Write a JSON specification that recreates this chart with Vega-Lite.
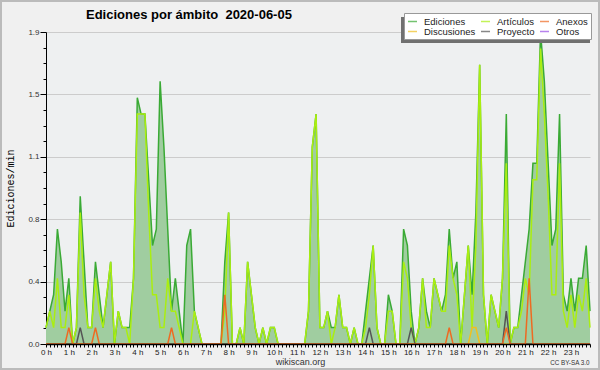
{
"$schema": "https://vega.github.io/schema/vega-lite/v6.json",
"width": 544, "height": 312,
"autosize": {"type": "none"},
"padding": {"left": 46, "top": 32, "right": 10, "bottom": 26},
"background": "#f0f0f0",
"config": {"view": {"fill": "#eef0f1", "stroke": null}, "font": "Liberation Sans"},
"title": {"text": "Ediciones por ámbito\u00a0\u00a02020-06-05", "font": "Liberation Sans", "fontSize": 13, "fontWeight": "bold", "color": "#000000", "anchor": "start", "frame": "group", "dx": 40, "baseline": "alphabetic", "offset": 0, "dy": 31},
"data": {"values": [
{"m":0,"ed":0.1,"art":0.1,"anx":0,"disc":0,"proy":0},
{"m":10,"ed":0.2,"art":0.2,"anx":0,"disc":0,"proy":0},
{"m":20,"ed":0.3,"art":0.1,"anx":0,"disc":0,"proy":0},
{"m":30,"ed":0.7,"art":0.4,"anx":0,"disc":0,"proy":0},
{"m":40,"ed":0.5,"art":0.1,"anx":0,"disc":0,"proy":0},
{"m":50,"ed":0.2,"art":0.1,"anx":0,"disc":0,"proy":0},
{"m":60,"ed":0.4,"art":0.3,"anx":0.1,"disc":0,"proy":0},
{"m":70,"ed":0,"art":0,"anx":0,"disc":0,"proy":0},
{"m":80,"ed":0.1,"art":0.1,"anx":0,"disc":0,"proy":0},
{"m":90,"ed":0.9,"art":0.8,"anx":0,"disc":0,"proy":0.1},
{"m":100,"ed":0.5,"art":0.3,"anx":0,"disc":0,"proy":0},
{"m":110,"ed":0.1,"art":0.1,"anx":0,"disc":0,"proy":0},
{"m":120,"ed":0.1,"art":0.1,"anx":0,"disc":0,"proy":0},
{"m":130,"ed":0.5,"art":0.4,"anx":0.1,"disc":0,"proy":0},
{"m":140,"ed":0.3,"art":0.2,"anx":0,"disc":0,"proy":0},
{"m":150,"ed":0.1,"art":0.1,"anx":0,"disc":0,"proy":0},
{"m":160,"ed":0.3,"art":0.3,"anx":0,"disc":0,"proy":0},
{"m":170,"ed":0.5,"art":0.5,"anx":0,"disc":0,"proy":0},
{"m":180,"ed":0,"art":0,"anx":0,"disc":0,"proy":0},
{"m":190,"ed":0.2,"art":0.2,"anx":0,"disc":0,"proy":0},
{"m":200,"ed":0.1,"art":0.1,"anx":0,"disc":0,"proy":0},
{"m":210,"ed":0.1,"art":0.1,"anx":0,"disc":0,"proy":0},
{"m":220,"ed":0.1,"art":0,"anx":0,"disc":0,"proy":0},
{"m":230,"ed":0.4,"art":0.4,"anx":0,"disc":0,"proy":0},
{"m":240,"ed":1.5,"art":1.4,"anx":0,"disc":0,"proy":0},
{"m":250,"ed":1.4,"art":1.4,"anx":0,"disc":0,"proy":0},
{"m":260,"ed":1.4,"art":1.4,"anx":0,"disc":0,"proy":0},
{"m":270,"ed":1.0,"art":0.8,"anx":0,"disc":0,"proy":0},
{"m":280,"ed":0.6,"art":0.3,"anx":0,"disc":0,"proy":0},
{"m":290,"ed":0.7,"art":0.3,"anx":0,"disc":0,"proy":0},
{"m":300,"ed":1.6,"art":0.1,"anx":0,"disc":0,"proy":0},
{"m":310,"ed":1.2,"art":0.1,"anx":0,"disc":0,"proy":0},
{"m":320,"ed":0.7,"art":0.4,"anx":0,"disc":0,"proy":0},
{"m":330,"ed":0.2,"art":0.2,"anx":0.1,"disc":0,"proy":0},
{"m":340,"ed":0.4,"art":0.2,"anx":0,"disc":0,"proy":0},
{"m":350,"ed":0.2,"art":0.1,"anx":0,"disc":0,"proy":0},
{"m":360,"ed":0,"art":0,"anx":0,"disc":0,"proy":0},
{"m":370,"ed":0.6,"art":0,"anx":0,"disc":0,"proy":0},
{"m":380,"ed":0.7,"art":0,"anx":0,"disc":0,"proy":0},
{"m":390,"ed":0.2,"art":0.2,"anx":0,"disc":0,"proy":0},
{"m":400,"ed":0.1,"art":0.1,"anx":0,"disc":0,"proy":0},
{"m":410,"ed":0,"art":0,"anx":0,"disc":0,"proy":0},
{"m":420,"ed":0,"art":0,"anx":0,"disc":0,"proy":0},
{"m":430,"ed":0,"art":0,"anx":0,"disc":0,"proy":0},
{"m":440,"ed":0,"art":0,"anx":0,"disc":0,"proy":0},
{"m":450,"ed":0,"art":0,"anx":0,"disc":0,"proy":0},
{"m":460,"ed":0,"art":0,"anx":0,"disc":0,"proy":0},
{"m":470,"ed":0.5,"art":0.2,"anx":0.3,"disc":0,"proy":0},
{"m":480,"ed":0.8,"art":0.8,"anx":0,"disc":0,"proy":0},
{"m":490,"ed":0,"art":0,"anx":0,"disc":0,"proy":0},
{"m":500,"ed":0,"art":0,"anx":0,"disc":0,"proy":0},
{"m":510,"ed":0.1,"art":0.1,"anx":0,"disc":0,"proy":0},
{"m":520,"ed":0,"art":0,"anx":0,"disc":0,"proy":0},
{"m":530,"ed":0.5,"art":0.5,"anx":0,"disc":0,"proy":0},
{"m":540,"ed":0.3,"art":0.3,"anx":0,"disc":0,"proy":0},
{"m":550,"ed":0.1,"art":0.1,"anx":0,"disc":0,"proy":0},
{"m":560,"ed":0,"art":0,"anx":0,"disc":0,"proy":0},
{"m":570,"ed":0.1,"art":0.1,"anx":0,"disc":0,"proy":0},
{"m":580,"ed":0,"art":0,"anx":0,"disc":0,"proy":0},
{"m":590,"ed":0.1,"art":0.1,"anx":0,"disc":0,"proy":0},
{"m":600,"ed":0.1,"art":0.1,"anx":0,"disc":0,"proy":0},
{"m":610,"ed":0,"art":0,"anx":0,"disc":0,"proy":0},
{"m":620,"ed":0,"art":0,"anx":0,"disc":0,"proy":0},
{"m":630,"ed":0,"art":0,"anx":0,"disc":0,"proy":0},
{"m":640,"ed":0,"art":0,"anx":0,"disc":0,"proy":0},
{"m":650,"ed":0,"art":0,"anx":0,"disc":0,"proy":0},
{"m":660,"ed":0,"art":0,"anx":0,"disc":0,"proy":0},
{"m":670,"ed":0,"art":0,"anx":0,"disc":0,"proy":0},
{"m":680,"ed":0,"art":0,"anx":0,"disc":0,"proy":0},
{"m":690,"ed":0.2,"art":0.2,"anx":0,"disc":0,"proy":0},
{"m":700,"ed":1.2,"art":1.2,"anx":0,"disc":0,"proy":0},
{"m":710,"ed":1.4,"art":1.4,"anx":0,"disc":0,"proy":0},
{"m":720,"ed":0.1,"art":0.1,"anx":0,"disc":0,"proy":0},
{"m":730,"ed":0.1,"art":0.1,"anx":0,"disc":0,"proy":0},
{"m":740,"ed":0.2,"art":0.2,"anx":0,"disc":0,"proy":0},
{"m":750,"ed":0.1,"art":0,"anx":0,"disc":0,"proy":0},
{"m":760,"ed":0.1,"art":0.1,"anx":0,"disc":0,"proy":0},
{"m":770,"ed":0.3,"art":0.3,"anx":0,"disc":0,"proy":0},
{"m":780,"ed":0.1,"art":0.1,"anx":0,"disc":0,"proy":0},
{"m":790,"ed":0.1,"art":0.1,"anx":0,"disc":0,"proy":0},
{"m":800,"ed":0,"art":0,"anx":0,"disc":0,"proy":0},
{"m":810,"ed":0.1,"art":0.1,"anx":0,"disc":0,"proy":0},
{"m":820,"ed":0,"art":0,"anx":0,"disc":0,"proy":0},
{"m":830,"ed":0,"art":0,"anx":0,"disc":0,"proy":0},
{"m":840,"ed":0.2,"art":0.1,"anx":0,"disc":0,"proy":0},
{"m":850,"ed":0.4,"art":0.3,"anx":0,"disc":0,"proy":0.1},
{"m":860,"ed":0.6,"art":0.6,"anx":0,"disc":0,"proy":0},
{"m":870,"ed":0.1,"art":0.1,"anx":0,"disc":0,"proy":0},
{"m":880,"ed":0,"art":0,"anx":0,"disc":0,"proy":0},
{"m":890,"ed":0,"art":0,"anx":0,"disc":0,"proy":0},
{"m":900,"ed":0.3,"art":0.2,"anx":0,"disc":0,"proy":0},
{"m":910,"ed":0.2,"art":0.2,"anx":0,"disc":0,"proy":0},
{"m":920,"ed":0,"art":0,"anx":0,"disc":0,"proy":0},
{"m":930,"ed":0,"art":0,"anx":0,"disc":0,"proy":0},
{"m":940,"ed":0.7,"art":0.5,"anx":0,"disc":0,"proy":0},
{"m":950,"ed":0.6,"art":0.4,"anx":0,"disc":0,"proy":0},
{"m":960,"ed":0.2,"art":0.1,"anx":0,"disc":0,"proy":0.1},
{"m":970,"ed":0,"art":0,"anx":0,"disc":0,"proy":0},
{"m":980,"ed":0.1,"art":0.1,"anx":0,"disc":0,"proy":0},
{"m":990,"ed":0.4,"art":0.4,"anx":0,"disc":0,"proy":0},
{"m":1000,"ed":0.2,"art":0.1,"anx":0,"disc":0,"proy":0},
{"m":1010,"ed":0.1,"art":0.1,"anx":0,"disc":0,"proy":0},
{"m":1020,"ed":0.4,"art":0.4,"anx":0,"disc":0,"proy":0},
{"m":1030,"ed":0.3,"art":0.3,"anx":0,"disc":0,"proy":0},
{"m":1040,"ed":0.2,"art":0.2,"anx":0,"disc":0,"proy":0},
{"m":1050,"ed":0.3,"art":0.2,"anx":0,"disc":0,"proy":0},
{"m":1060,"ed":0.7,"art":0.6,"anx":0.1,"disc":0,"proy":0},
{"m":1070,"ed":0.4,"art":0.4,"anx":0,"disc":0,"proy":0},
{"m":1080,"ed":0.5,"art":0.3,"anx":0,"disc":0,"proy":0},
{"m":1090,"ed":0,"art":0,"anx":0,"disc":0,"proy":0},
{"m":1100,"ed":0.3,"art":0.3,"anx":0,"disc":0,"proy":0},
{"m":1110,"ed":0.6,"art":0.6,"anx":0,"disc":0,"proy":0},
{"m":1120,"ed":0.3,"art":0.1,"anx":0,"disc":0.1,"proy":0},
{"m":1130,"ed":0.8,"art":0.6,"anx":0,"disc":0.1,"proy":0},
{"m":1140,"ed":1.7,"art":1.7,"anx":0,"disc":0,"proy":0},
{"m":1150,"ed":0.3,"art":0.3,"anx":0,"disc":0,"proy":0},
{"m":1160,"ed":0,"art":0,"anx":0,"disc":0,"proy":0},
{"m":1170,"ed":0.3,"art":0.3,"anx":0,"disc":0,"proy":0},
{"m":1180,"ed":0.2,"art":0.2,"anx":0,"disc":0,"proy":0},
{"m":1190,"ed":0.1,"art":0.1,"anx":0,"disc":0,"proy":0},
{"m":1200,"ed":0.4,"art":0.4,"anx":0,"disc":0,"proy":0},
{"m":1210,"ed":1.4,"art":1.1,"anx":0.1,"disc":0,"proy":0.2},
{"m":1220,"ed":0,"art":0,"anx":0,"disc":0,"proy":0},
{"m":1230,"ed":0.1,"art":0.1,"anx":0,"disc":0,"proy":0},
{"m":1240,"ed":0.1,"art":0.1,"anx":0,"disc":0,"proy":0},
{"m":1250,"ed":0.3,"art":0.2,"anx":0,"disc":0,"proy":0},
{"m":1260,"ed":0.5,"art":0.4,"anx":0,"disc":0,"proy":0},
{"m":1270,"ed":0.7,"art":0.3,"anx":0.4,"disc":0,"proy":0},
{"m":1280,"ed":1.1,"art":1.0,"anx":0,"disc":0,"proy":0},
{"m":1290,"ed":1.1,"art":1.0,"anx":0,"disc":0,"proy":0},
{"m":1300,"ed":1.9,"art":1.8,"anx":0,"disc":0,"proy":0},
{"m":1310,"ed":1.6,"art":1.4,"anx":0,"disc":0,"proy":0},
{"m":1320,"ed":1.1,"art":0.9,"anx":0,"disc":0,"proy":0},
{"m":1330,"ed":0.6,"art":0.3,"anx":0,"disc":0,"proy":0},
{"m":1340,"ed":0.7,"art":0.3,"anx":0,"disc":0,"proy":0},
{"m":1350,"ed":1.4,"art":1.1,"anx":0,"disc":0,"proy":0},
{"m":1360,"ed":0.3,"art":0.2,"anx":0,"disc":0,"proy":0},
{"m":1370,"ed":0.2,"art":0.1,"anx":0,"disc":0,"proy":0},
{"m":1380,"ed":0.4,"art":0.3,"anx":0,"disc":0,"proy":0},
{"m":1390,"ed":0.2,"art":0.1,"anx":0,"disc":0,"proy":0},
{"m":1400,"ed":0.4,"art":0.3,"anx":0,"disc":0,"proy":0},
{"m":1410,"ed":0.4,"art":0.2,"anx":0,"disc":0,"proy":0},
{"m":1420,"ed":0.6,"art":0.4,"anx":0,"disc":0,"proy":0},
{"m":1430,"ed":0.2,"art":0.1,"anx":0,"disc":0,"proy":0}
]},
"layer": [
{"mark": {"type": "area", "fill": "#a0cda0", "opacity": 1},
 "encoding": {
  "x": {"field": "m", "type": "quantitative", "scale": {"domain": [0, 1430], "nice": false, "zero": false},
        "axis": {"orient": "bottom", "tickCount": 143, "labelExpr": "datum.value % 60 == 0 ? (datum.value / 60) + ' h' : ''", "labelOverlap": false, "labelFlush": false, "labelFont": "Liberation Sans", "labelFontSize": 8, "labelColor": "#222222", "labelPadding": 1, "tickSize": 3, "tickColor": "#000000", "domainColor": "#000000", "domainWidth": 1.5, "grid": false, "title": "wikiscan.org", "titleFont": "Liberation Sans", "titleFontSize": 9, "titleFontWeight": "normal", "titleColor": "#333333", "titleX": 254, "titleY": 20, "titleBaseline": "alphabetic", "titleAlign": "center", "zindex": 1}},
  "y": {"field": "ed", "type": "quantitative", "scale": {"domain": [0, 1.9], "nice": false, "zero": true},
        "axis": {"orient": "left", "values": [0, 0.38, 0.76, 1.14, 1.52, 1.9], "format": ".1f", "tickSize": 6, "tickColor": "#000000", "domainColor": "#000000", "domainWidth": 1, "grid": true, "gridColor": "#cccccc", "labelFont": "Liberation Sans", "labelFontSize": 8, "labelColor": "#333333", "labelPadding": 1, "title": "Ediciones/min", "titleFont": "Liberation Mono", "titleFontSize": 10, "titleFontWeight": "normal", "titleColor": "#000000", "titleX": -36, "titleY": 156, "titleAngle": -90, "titleBaseline": "middle", "titleAlign": "center", "zindex": 0}}
 }},
{"mark": {"type": "line", "strokeWidth": 1.5},
 "encoding": {
  "x": {"field": "m", "type": "quantitative", "axis": {"orient": "bottom", "domain": false, "ticks": false, "labels": false, "grid": false, "title": "CC BY-SA 3.0", "titleFont": "Liberation Sans", "titleFontSize": 6.3, "titleFontWeight": "normal", "titleColor": "#333333", "titleX": 543, "titleY": 20, "titleAlign": "right", "titleBaseline": "alphabetic"}},
  "y": {"field": "ed", "type": "quantitative", "axis": {"orient": "left", "values": [0.095, 0.19, 0.285, 0.475, 0.57, 0.665, 0.855, 0.95, 1.045, 1.235, 1.33, 1.425, 1.615, 1.71, 1.805], "tickSize": 3, "tickColor": "#000000", "labels": false, "domain": false, "grid": false, "title": null}},
  "color": {"datum": "Ediciones", "type": "nominal",
    "scale": {"domain": ["Ediciones", "Discusiones", "Artículos", "Proyecto", "Anexos", "Otros"], "range": ["#3aaa35", "#f0c020", "#aaee11", "#555555", "#ee6a22", "#9a4ee6"]},
    "legend": {"orient": "none", "legendX": 358, "legendY": -19, "columns": 3, "direction": "vertical", "symbolType": "stroke", "symbolSize": 81, "symbolStrokeWidth": 1.5, "symbolOpacity": 0.7, "labelFont": "Liberation Sans", "labelFontSize": 9.5, "labelColor": "#222222", "fillColor": "#ffffff", "strokeColor": "#999999", "padding": 3, "rowPadding": 0, "columnPadding": 2, "labelOffset": 6, "title": null, "zindex": 2}}
 }},
{"mark": {"type": "line", "opacity": 0},
 "encoding": {"x": {"field": "m", "type": "quantitative", "axis": null}, "y": {"field": "proy", "type": "quantitative", "axis": null},
  "stroke": {"field": "proy", "type": "quantitative",
    "scale": {"range": ["#707070", "#707070"]},
    "legend": {"orient": "none", "legendX": 355, "legendY": -15, "direction": "horizontal", "gradientLength": 189, "gradientThickness": 26, "gradientStrokeWidth": 0, "labelExpr": "''", "labelOffset": 0, "labelFontSize": 1, "padding": 0, "title": null, "zindex": 1}},
  "fill": {"field": "disc", "type": "quantitative",
    "scale": {"range": ["rgba(0,0,0,0)", "rgba(0,0,0,0)"]},
    "legend": {"orient": "none", "legendX": -45, "legendY": -31, "direction": "horizontal", "gradientLength": 598, "gradientThickness": 368, "gradientStrokeColor": "#bbbbbb", "gradientStrokeWidth": 2, "labelExpr": "''", "labelOffset": 0, "labelFontSize": 1, "padding": 0, "title": null, "zindex": 0}}}},
{"mark": {"type": "line", "strokeWidth": 1.5},
 "encoding": {"x": {"field": "m", "type": "quantitative", "axis": null}, "y": {"field": "art", "type": "quantitative", "axis": null}, "color": {"datum": "Artículos", "type": "nominal"}}},
{"mark": {"type": "line", "strokeWidth": 1.5},
 "encoding": {"x": {"field": "m", "type": "quantitative", "axis": null}, "y": {"field": "disc", "type": "quantitative", "axis": null}, "color": {"datum": "Discusiones", "type": "nominal"}}},
{"mark": {"type": "line", "strokeWidth": 1.5},
 "encoding": {"x": {"field": "m", "type": "quantitative", "axis": null}, "y": {"field": "proy", "type": "quantitative", "axis": null}, "color": {"datum": "Proyecto", "type": "nominal"}}},
{"mark": {"type": "line", "strokeWidth": 1.5},
 "encoding": {"x": {"field": "m", "type": "quantitative", "axis": null}, "y": {"field": "anx", "type": "quantitative", "axis": null}, "color": {"datum": "Anexos", "type": "nominal"}}}
],
"resolve": {"axis": {"x": "independent", "y": "independent"}}
}
